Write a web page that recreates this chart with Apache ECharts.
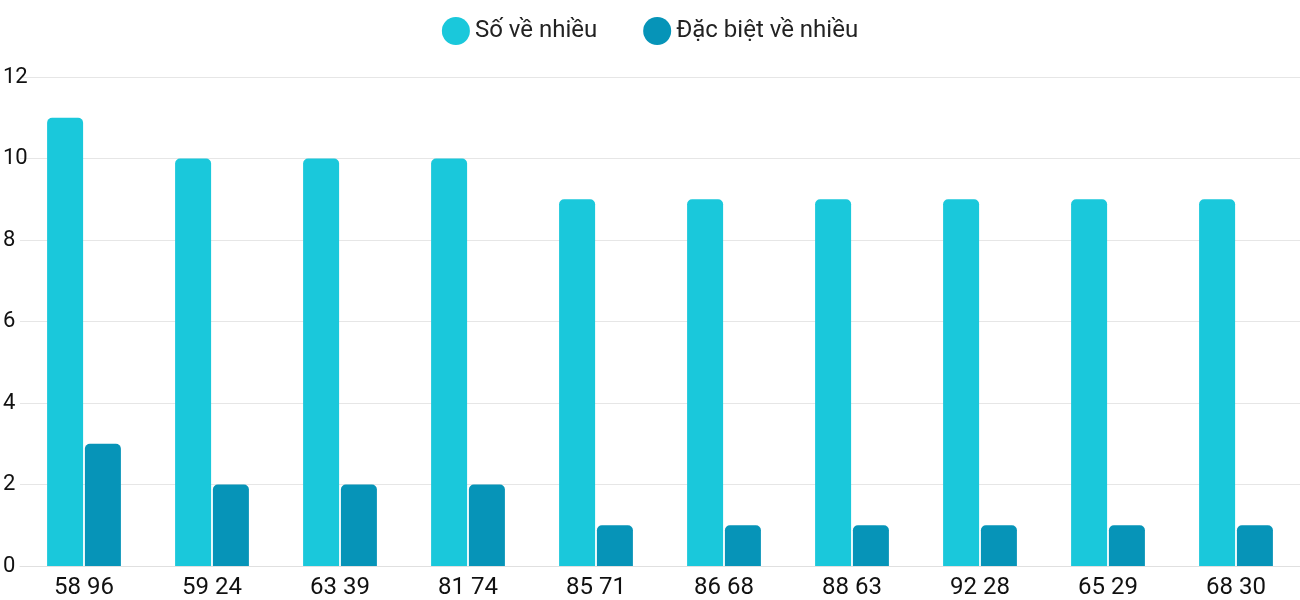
<!DOCTYPE html>
<html><head><meta charset="utf-8">
<script src="https://cdn.jsdelivr.net/npm/echarts@6/dist/echarts.min.js"></script>
<style>html,body{margin:0;padding:0;background:#fff}#c{width:1300px;height:600px}</style>
</head><body><div id="c"></div>
<script>
const categories = ["58 96","59 24","63 39","81 74","85 71","86 68","88 63","92 28","65 29","68 30"];
const soVeNhieu = [11,10,10,10,9,9,9,9,9,9];
const dacBiet = [3,2,2,2,1,1,1,1,1,1];
const yTicks = [0,2,4,6,8,10,12];
const chart = echarts.init(document.getElementById('c'));
chart.setOption({
  animation:false,
  textStyle:{fontFamily:'Roboto'},
  legend:{top:12,left:'center',icon:'circle',itemWidth:28,itemHeight:28,itemGap:46,
    textStyle:{fontSize:24,color:'#222',fontFamily:'Roboto'}},
  grid:{left:19.5,width:1308,top:77,bottom:34,containLabel:false},
  xAxis:{type:'category',data:categories,axisTick:{show:false},
    axisLine:{lineStyle:{color:'#e0e0e0'}},
    axisLabel:{fontSize:24,color:'#111',margin:10}},
  yAxis:{type:'value',min:yTicks[0],max:yTicks[yTicks.length-1],interval:2,
    axisLabel:{fontSize:22,color:'#111',align:'left',margin:17},
    splitLine:{lineStyle:{color:'#e6e6e6'}}},
  series:[
    {name:'Số về nhiều',type:'bar',data:soVeNhieu,barWidth:36,barGap:'5%',
      itemStyle:{color:'#1ac8db',borderRadius:[5,5,0,0]}},
    {name:'Đặc biệt về nhiều',type:'bar',data:dacBiet,barWidth:36,
      itemStyle:{color:'#0694b8',borderRadius:[5,5,0,0]}}
  ]
});
</script></body></html>
